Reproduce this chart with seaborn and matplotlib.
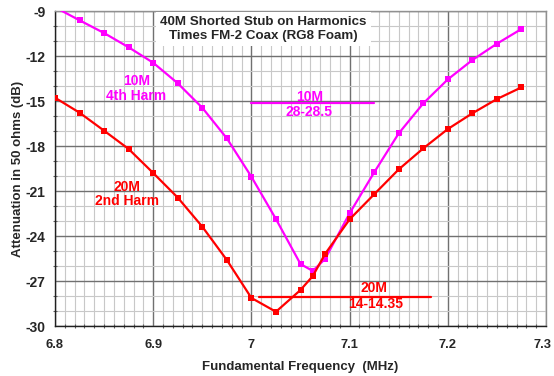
import matplotlib
matplotlib.use("Agg")
import matplotlib.pyplot as plt
from matplotlib.ticker import MultipleLocator
from matplotlib.transforms import ScaledTranslation
import numpy as np
import pandas as pd
import seaborn as sns

# Fundamental frequency (MHz) and attenuation (dB) for each harmonic
freq = [6.8, 6.825, 6.85, 6.875, 6.9, 6.925, 6.95, 6.975, 7.0, 7.025, 7.05,
        7.0625, 7.075, 7.1, 7.125, 7.15, 7.175, 7.2, 7.225, 7.25, 7.275]
atten_10m = [-8.75, -9.62, -10.47, -11.42, -12.45, -13.82, -15.45, -17.49, -20.05,
             -22.87, -25.87, -26.33, -25.53, -22.49, -19.76, -17.16, -15.16,
             -13.56, -12.27, -11.18, -10.2]
atten_20m = [-14.78, -15.78, -16.98, -18.2, -19.8, -21.44, -23.38, -25.6, -28.13,
             -29.05, -27.6, -26.67, -25.2, -22.89, -21.22, -19.56, -18.16,
             -16.87, -15.82, -14.87, -14.09]

# Amateur band edges expressed as fundamental frequency
band_10m_x = [7.0, 7.125]
band_10m_y = [-15.15, -15.15]
band_20m_x = [7.0075, 7.1825]
band_20m_y = [-28.05, -28.05]

x_tick_labels = ["6.8", "6.9", "7", "7.1", "7.2", "7.3"]

MAGENTA = "#FF00FF"
RED = "#FF0000"

sns.set_theme(style="white")
plt.rcParams["font.family"] = ["Liberation Sans", "DejaVu Sans"]
plt.rcParams["font.weight"] = "bold"
plt.rcParams["axes.unicode_minus"] = False

fig = plt.figure(figsize=(5.54, 3.76), dpi=100)
ax = fig.add_axes([55 / 554, 50 / 376, 491 / 554, 315 / 376])

df = pd.DataFrame({
    "freq": freq * 2,
    "atten": atten_10m + atten_20m,
    "series": ["10M"] * len(freq) + ["20M"] * len(freq),
})
sns.lineplot(data=df, x="freq", y="atten", hue="series",
             palette={"10M": MAGENTA, "20M": RED}, marker="s", markersize=4,
             markeredgewidth=0, linewidth=1.6, legend=False, ax=ax, zorder=3)

ax.plot(band_10m_x, band_10m_y, color=MAGENTA, lw=1.6, zorder=3)
ax.plot(band_20m_x, band_20m_y, color=RED, lw=1.6, zorder=3)

ax.set_xlim(6.8, 7.3)
ax.set_ylim(-30, -9)
ax.xaxis.set_minor_locator(MultipleLocator(0.01))
ax.yaxis.set_major_locator(MultipleLocator(3))
ax.yaxis.set_minor_locator(MultipleLocator(1))
ax.set_xticks(np.linspace(6.8, 7.3, len(x_tick_labels)))
ax.set_xticklabels(x_tick_labels)

ax.grid(which="major", color="#707070", lw=1.0)
ax.grid(which="minor", color="#C8C8C8", lw=0.8)
ax.set_axisbelow(True)

for side in ["top", "right"]:
    ax.spines[side].set_color("#909090")
    ax.spines[side].set_linewidth(1.0)
for side in ["left", "bottom"]:
    ax.spines[side].set_color("#202020")
    ax.spines[side].set_linewidth(1.0)

ax.tick_params(axis="y", which="major", length=5, width=1, color="#202020",
               labelsize=10, pad=2)
ax.tick_params(axis="y", which="minor", length=3, width=0.8, color="#606060",
               left=True, direction="inout")
ax.tick_params(axis="x", which="major", direction="inout", length=7, width=1,
               color="#202020", labelsize=9.3, pad=6)
ax.tick_params(axis="x", which="minor", length=3, width=0.8, color="#606060",
               bottom=True, direction="inout")
for lab in ax.get_xticklabels() + ax.get_yticklabels():
    lab.set_fontweight("bold")
# keep the last x label inside the figure edge
last = ax.get_xticklabels()[-1]
last.set_transform(last.get_transform() + ScaledTranslation(-3 / 100, 0, fig.dpi_scale_trans))

ax.set_xlabel("Fundamental Frequency  (MHz)", fontsize=9.5, fontweight="bold",
              labelpad=7)
ax.set_ylabel("Attenuation in 50 ohms (dB)", fontsize=9.5, fontweight="bold",
              labelpad=1)

ax.text(7.0125, -10.2, "40M Shorted Stub on Harmonics\nTimes FM-2 Coax (RG8 Foam)",
        ha="center", va="center", fontsize=9.6, fontweight="bold",
        linespacing=1.3, zorder=5,
        bbox=dict(facecolor="white", edgecolor="none", pad=3))

ax.text(6.883, -14.15, "10M\n4th Harm", color=MAGENTA, ha="center", va="center",
        fontsize=10, fontweight="bold", linespacing=1.08, zorder=4)
ax.text(6.873, -21.2, "20M\n2nd Harm", color=RED, ha="center", va="center",
        fontsize=10, fontweight="bold", linespacing=1.08, zorder=4)
ax.text(7.059, -14.7, "10M", color=MAGENTA, ha="center", va="center",
        fontsize=10, fontweight="bold", zorder=4)
ax.text(7.059, -15.72, "28-28.5", color=MAGENTA, ha="center", va="center",
        fontsize=10, fontweight="bold", zorder=4)
ax.text(7.125, -27.47, "20M", color=RED, ha="center", va="center",
        fontsize=10, fontweight="bold", zorder=4)
ax.text(7.126, -28.53, "14-14.35", color=RED, ha="center", va="center",
        fontsize=10, fontweight="bold", zorder=4)

fig.savefig("out.png", dpi=100, facecolor="white")
